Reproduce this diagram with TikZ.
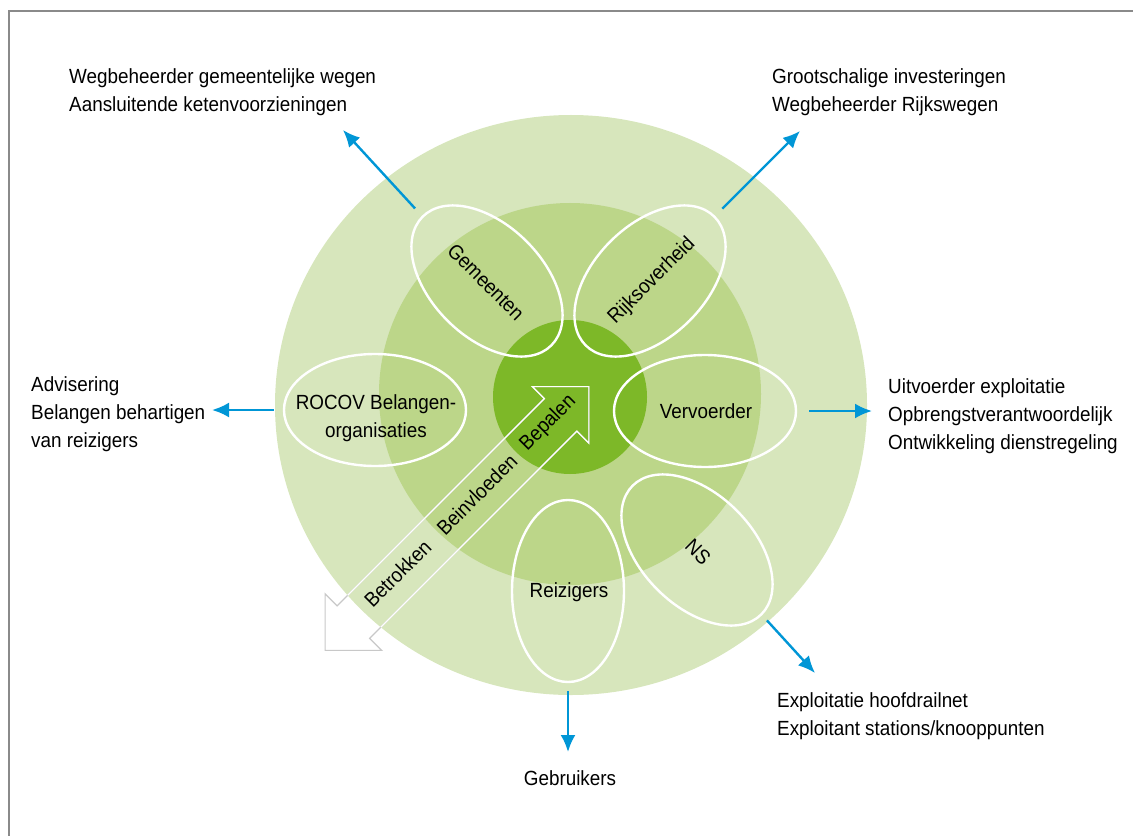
\documentclass[tikz,border=0pt]{standalone}
\usepackage{fontspec}
\setmainfont[FakeStretch=0.92]{Liberation Sans}
\usetikzlibrary{shapes,arrows.meta}
\definecolor{ringout}{HTML}{D7E6BC}
\definecolor{ringmid}{HTML}{BCD689}
\definecolor{ringin}{HTML}{7DB828}
\definecolor{pijlblauw}{HTML}{0096D6}
\definecolor{pijlgrijs}{HTML}{C8C8C8}
\definecolor{kader}{HTML}{8A8A8A}
\tikzstyle{ring} = [ellipse, inner sep=0pt, outer sep=0pt]
\tikzstyle{petal} = [ellipse, draw=white, line width=2.4bp,
    minimum width=182bp, minimum height=112bp, inner sep=0pt]
\tikzstyle{link} = [draw=pijlblauw, line width=2.4bp,
    -{Latex[length=17bp, width=15bp]}]
\tikzstyle{note} = [align=left, anchor=north west, inner sep=0pt]

\begin{document}
\begin{tikzpicture}[x=1bp, y=-1bp, font=\fontsize{20.5bp}{28bp}\selectfont]
\useasboundingbox (0,0) rectangle (1133,836);
\draw[kader, line width=1.5bp] (9,836) -- (9,11) -- (1133,11);

    % Place rings
\node[ring, fill=ringout, minimum width=592bp, minimum height=580bp] (buiten) at (571,405) {};
\node[ring, fill=ringmid, minimum size=382bp] (midden) at (570,394) {};
\node[ring, fill=ringin, minimum size=154bp] (kern) at (570,397) {};

    % Double arrow, grey outside the rings, white inside
\foreach \kleur/\straal in {pijlgrijs/2000, white/296} {
  \begin{scope}
  \clip (571,405) ellipse [x radius=\straal, y radius=\straal-6];
  \draw[\kleur, line width=1.2bp, shift={(457,518.5)}, rotate=45]
    (186.5,0) -- (146.5,40) -- (146.5,23) -- (-146.5,23) -- (-146.5,40)
    -- (-186.5,0) -- (-146.5,-40) -- (-146.5,-23) -- (146.5,-23)
    -- (146.5,-40) -- cycle;
  \end{scope}
}
\begin{scope}[shift={(457,518.5)}, rotate=45]
\node[rotate=45] (bepalen) at (132,-3) {Bepalen};
\node[rotate=45] (beinvloeden) at (31,-3) {Beinvloeden};
\node[rotate=45] (betrokken) at (-81,-3) {Betrokken};
\end{scope}

    % Place petals
\node[petal, rotate=-45] (gem) at (487,281) {};
\node[petal, rotate=45] (rijk) at (650,281) {};
\node[petal] (roc) at (375,410) {};
\node[petal] (verv) at (705,411) {};
\node[petal, rotate=-45] (ns) at (697,550) {};
\node[petal, rotate=90] (reiz) at (568,591) {};

\node[rotate=-45] (gemtxt) at (486,282) {Gemeenten};
\node[rotate=45] (rijktxt) at (652,281) {Rijksoverheid};
\node[align=center] (roctxt) at (376,418) {ROCOV Belangen-\\organisaties};
\node (vervtxt) at (706,411) {Vervoerder};
\node[rotate=-45] (nstxt) at (698,552) {NS};
\node (reiztxt) at (569,592) {Reizigers};

    % Place notes
\node[note] (gemnote) at (69,68) {Wegbeheerder gemeentelijke wegen\\Aansluitende ketenvoorzieningen};
\node[note] (rijknote) at (772,68) {Grootschalige investeringen\\Wegbeheerder Rijkswegen};
\node[note] (rocnote) at (31,376) {Advisering\\Belangen behartigen\\van reizigers};
\node[note] (vervnote) at (888,378) {Uitvoerder exploitatie\\Opbrengstverantwoordelijk\\Ontwikkeling dienstregeling};
\node[note] (nsnote) at (777,692) {Exploitatie hoofdrailnet\\Exploitant stations/knooppunten};
\node[anchor=base] (reiznote) at (570,785) {Gebruikers};

\coordinate (gem-tip) at (343,130);
\coordinate (rijk-tip) at (800,131);
\coordinate (roc-tip) at (212,410);
\coordinate (verv-tip) at (872,411);
\coordinate (ns-tip) at (815,673);
\coordinate (reiz-tip) at (568,752);

    % Draw edges
\path[link, shorten <=10bp] (gem.west) -- (gem-tip);
\path[link, shorten <=10bp] (rijk.east) -- (rijk-tip);
\path[link, shorten <=9bp] (roc.west) -- (roc-tip);
\path[link, shorten <=12bp] (verv.east) -- (verv-tip);
\path[link, shorten <=7bp] (ns.east) -- (ns-tip);
\path[link, shorten <=8bp] (reiz.west) -- (reiz-tip);

\end{tikzpicture}
\end{document}
